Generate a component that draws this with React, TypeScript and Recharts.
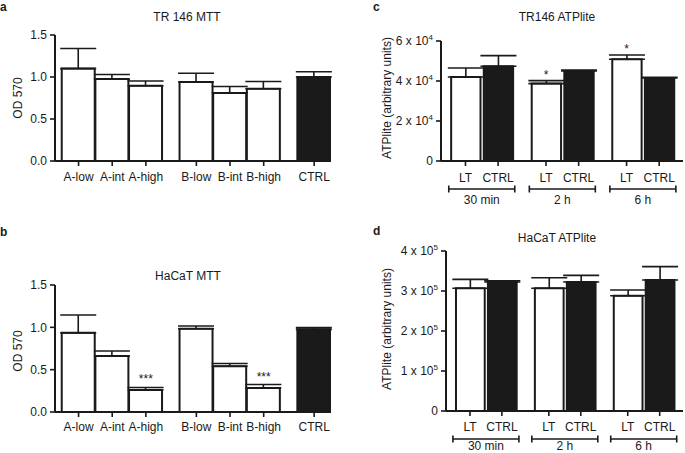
import React from 'react';
import { BarChart, Bar, XAxis, YAxis, ErrorBar, Cell, ReferenceDot } from 'recharts';

// ---------------- data ----------------
const mttCategories = ['A-low', 'A-int', 'A-high', 'B-low', 'B-int', 'B-high', 'CTRL'];
const tr146MttMean = [1.1, 0.975, 0.895, 0.94, 0.81, 0.86, 1.0];
const tr146MttSem = [0.24, 0.055, 0.058, 0.105, 0.077, 0.086, 0.063];
const tr146MttSig = ['', '', '', '', '', '', ''];
const hacatMttMean = [0.935, 0.66, 0.26, 0.983, 0.54, 0.284, 0.976];
const hacatMttSem = [0.21, 0.06, 0.03, 0.032, 0.032, 0.04, 0.02];
const hacatMttSig = ['', '', '***', '', '', '***', ''];

const atpTreatments = ['LT', 'CTRL', 'LT', 'CTRL', 'LT', 'CTRL'];
const atpTimepoints = ['30 min', '2 h', '6 h'];
const tr146AtpMean = [42000, 47400, 38700, 45000, 50900, 41500];
const tr146AtpSem = [4500, 5300, 1500, 500, 2100, 400];
const tr146AtpSig = ['', '', '*', '', '*', ''];
const hacatAtpMean = [306700, 322500, 306700, 322500, 288000, 327500];
const hacatAtpSem = [22300, 3300, 26300, 16500, 14500, 33500];
const hacatAtpSig = ['', '', '', '', '', ''];

const mttYTicks = [0, 0.5, 1.0, 1.5];
const tr146AtpYTicks = [0, 20000, 40000, 60000];
const hacatAtpYTicks = [0, 100000, 200000, 300000, 400000];

// ---------------- layout (slot positions on the category axis) ----------------
const MTT_SLOTS = [0.7, 1.7, 2.7, 4.2, 5.2, 6.2, 7.7];
const MTT_SPAN: [number, number] = [0, 8.2];
const ATP_SLOTS = [0.75, 1.75, 3.22, 4.22, 5.69, 6.69];
const ATP_SPAN: [number, number] = [0, 7.42];

const INK = '#1a1a1a';
const FONT = '"Liberation Sans", Arial, Helvetica, sans-serif';

type Row = {
  slot: number;
  name: string;
  mean: number;
  range: [number, number];
  top: number;
  sig: string;
  control: boolean;
};

const buildRows = (names: string[], means: number[], sems: number[], sigs: string[], slots: number[]): Row[] =>
  names.map((name, i) => ({
    slot: slots[i],
    name,
    mean: means[i],
    range: [0, sems[i]],
    top: means[i] + sems[i],
    sig: sigs[i],
    control: name === 'CTRL',
  }));

const tr146MttRows = buildRows(mttCategories, tr146MttMean, tr146MttSem, tr146MttSig, MTT_SLOTS);
const hacatMttRows = buildRows(mttCategories, hacatMttMean, hacatMttSem, hacatMttSig, MTT_SLOTS);
const tr146AtpRows = buildRows(atpTreatments, tr146AtpMean, tr146AtpSem, tr146AtpSig, ATP_SLOTS);
const hacatAtpRows = buildRows(atpTreatments, hacatAtpMean, hacatAtpSem, hacatAtpSig, ATP_SLOTS);
const atpGroups = atpTimepoints.map((name, g) => ({
  name,
  slot: (ATP_SLOTS[2 * g] + ATP_SLOTS[2 * g + 1]) / 2,
}));

const AXIS_LINE = { stroke: INK, strokeWidth: 2 };
const TICK_LINE = { stroke: INK, strokeWidth: 1.6 };
const TICK_TEXT = { fill: INK, fontSize: 12, fontFamily: FONT };

const SciTick = (props: any) => {
  const { x, y, payload } = props;
  const v = payload.value as number;
  if (v === 0) {
    return (
      <text x={x} y={y} dy={4} textAnchor="end" fill={INK} fontSize={12} fontFamily={FONT}>
        0
      </text>
    );
  }
  const e = Math.floor(Math.log10(v) + 1e-9);
  const m = Math.round(v / Math.pow(10, e));
  return (
    <text x={x} y={y} dy={4} textAnchor="end" fill={INK} fontSize={12} fontFamily={FONT}>
      {`${m} x 10`}
      <tspan dy={-5} fontSize={8}>
        {e}
      </tspan>
    </text>
  );
};

const makeGroupTick = (groups: { name: string; slot: number }[], half: number, bracketDy: number, textDy: number) => (props: any) => {
  const { x, y, payload } = props;
  const grp = groups.find((g) => Math.abs(g.slot - payload.value) < 1e-6);
  const by = y + bracketDy;
  return (
    <g>
      <line x1={x - half} x2={x + half} y1={by} y2={by} stroke={INK} strokeWidth={1.6} />
      <line x1={x - half} x2={x - half} y1={by - 3.5} y2={by + 3.5} stroke={INK} strokeWidth={1.6} />
      <line x1={x + half} x2={x + half} y1={by - 3.5} y2={by + 3.5} stroke={INK} strokeWidth={1.6} />
      <text x={x} y={y + textDy} textAnchor="middle" fill={INK} fontSize={12} fontFamily={FONT}>
        {grp ? grp.name : ''}
      </text>
    </g>
  );
};

type PanelProps = {
  rows: Row[];
  span: [number, number];
  yTicks: number[];
  sci?: boolean;
  width: number;
  height: number;
  marginTop: number;
  marginRight: number;
  yWidth: number;
  xHeight: number;
  labelGap: number;
  barSize: number;
  starOffset: number;
  groups?: { name: string; slot: number }[];
  groupHeight?: number;
  bracketDy?: number;
  groupTextDy?: number;
};

function Panel(p: PanelProps) {
  const yMax = p.yTicks[p.yTicks.length - 1];
  return (
    <BarChart
      width={p.width}
      height={p.height}
      data={p.rows}
      margin={{ top: p.marginTop, right: p.marginRight, bottom: 0, left: 0 }}
      barSize={p.barSize}
    >
      <XAxis
        dataKey="slot"
        type="number"
        domain={p.span}
        ticks={p.rows.map((r) => r.slot)}
        interval={0}
        tickFormatter={(v: number) => {
          const r = p.rows.find((row) => Math.abs(row.slot - v) < 1e-6);
          return r ? r.name : '';
        }}
        height={p.xHeight}
        tickSize={5}
        tickMargin={p.labelGap}
        axisLine={AXIS_LINE}
        tickLine={TICK_LINE}
        tick={TICK_TEXT}
        allowDataOverflow
      />
      {p.groups ? (
        <XAxis
          xAxisId="grp"
          dataKey="slot"
          type="number"
          domain={p.span}
          ticks={p.groups.map((g) => g.slot)}
          interval={0}
          height={p.groupHeight}
          tickSize={0}
          tickMargin={0}
          axisLine={false}
          tickLine={false}
          tick={makeGroupTick(p.groups, 33, p.bracketDy ?? 6, p.groupTextDy ?? 21)}
          allowDataOverflow
        />
      ) : null}
      <YAxis
        type="number"
        domain={[0, yMax]}
        ticks={p.yTicks}
        interval={0}
        width={p.yWidth}
        tickSize={5}
        tickMargin={3}
        axisLine={AXIS_LINE}
        tickLine={TICK_LINE}
        tick={p.sci ? SciTick : TICK_TEXT}
        tickFormatter={p.sci ? undefined : (v: number) => v.toFixed(1)}
        allowDataOverflow
      />
      <Bar dataKey="mean" isAnimationActive={false} stroke={INK} strokeWidth={2}>
        {p.rows.map((r, i) => (
          <Cell key={i} fill={r.control ? INK : '#ffffff'} />
        ))}
        <ErrorBar dataKey="range" width={18} stroke={INK} strokeWidth={1.6} direction="y" isAnimationActive={false} />
      </Bar>
      {p.rows
        .filter((r) => r.sig)
        .map((r) => (
          <ReferenceDot
            key={r.slot}
            x={r.slot}
            y={r.top}
            r={0}
            fill="none"
            stroke="none"
            label={{ value: r.sig, position: 'top', offset: p.starOffset, fill: INK, fontSize: 12, fontFamily: FONT }}
          />
        ))}
    </BarChart>
  );
}

const txt = { fill: INK, fontSize: 12, fontFamily: FONT } as const;

export default function App() {
  return (
    <div style={{ position: 'absolute', left: 0, top: 0, width: 685, height: 453, background: '#fff', overflow: 'hidden' }}>
      <div style={{ position: 'absolute', left: 0, top: 0 }}>
        <Panel
          rows={tr146MttRows}
          span={MTT_SPAN}
          yTicks={mttYTicks}
          width={340}
          height={200}
          marginTop={35}
          marginRight={9}
          yWidth={55}
          xHeight={39}
          labelGap={6}
          barSize={33}
          starOffset={3}
        />
      </div>
      <div style={{ position: 'absolute', left: 0, top: 230 }}>
        <Panel
          rows={hacatMttRows}
          span={MTT_SPAN}
          yTicks={mttYTicks}
          width={340}
          height={223}
          marginTop={55}
          marginRight={9}
          yWidth={55}
          xHeight={41}
          labelGap={5}
          barSize={33}
          starOffset={4}
        />
      </div>
      <div style={{ position: 'absolute', left: 340, top: 0 }}>
        <Panel
          rows={tr146AtpRows}
          span={ATP_SPAN}
          yTicks={tr146AtpYTicks}
          sci
          width={345}
          height={230}
          marginTop={41}
          marginRight={2}
          yWidth={101}
          xHeight={22}
          labelGap={7}
          barSize={33}
          starOffset={2}
          groups={atpGroups}
          groupHeight={47}
          bracketDy={6}
          groupTextDy={21}
        />
      </div>
      <div style={{ position: 'absolute', left: 340, top: 230 }}>
        <Panel
          rows={hacatAtpRows}
          span={ATP_SPAN}
          yTicks={hacatAtpYTicks}
          sci
          width={345}
          height={223}
          marginTop={21}
          marginRight={2}
          yWidth={106}
          xHeight={22}
          labelGap={6}
          barSize={32}
          starOffset={2}
          groups={atpGroups}
          groupHeight={20}
          bracketDy={6}
          groupTextDy={17}
        />
      </div>
      <svg width={685} height={453} style={{ position: 'absolute', left: 0, top: 0, pointerEvents: 'none' }}>
        <text x={0} y={11} fill={INK} fontSize={12} fontWeight="bold" fontFamily={FONT}>a</text>
        <text x={0} y={236} fill={INK} fontSize={12} fontWeight="bold" fontFamily={FONT}>b</text>
        <text x={373} y={11} fill={INK} fontSize={12} fontWeight="bold" fontFamily={FONT}>c</text>
        <text x={373} y={235} fill={INK} fontSize={12} fontWeight="bold" fontFamily={FONT}>d</text>

        <text x={187} y={21} textAnchor="middle" {...txt}>TR 146 MTT</text>
        <text x={188} y={280} textAnchor="middle" {...txt}>HaCaT MTT</text>
        <text x={557} y={21} textAnchor="middle" {...txt}>TR146 ATPlite</text>
        <text x={557} y={242} textAnchor="middle" {...txt}>HaCaT ATPlite</text>

        <text transform="translate(22,98) rotate(-90)" textAnchor="middle" {...txt}>OD 570</text>
        <text transform="translate(22,351) rotate(-90)" textAnchor="middle" {...txt}>OD 570</text>
        <text transform="translate(391,98) rotate(-90)" textAnchor="middle" {...txt}>ATPlite (arbitrary units)</text>
        <text transform="translate(391,329) rotate(-90)" textAnchor="middle" {...txt}>ATPlite (arbitrary units)</text>
      </svg>
    </div>
  );
}
